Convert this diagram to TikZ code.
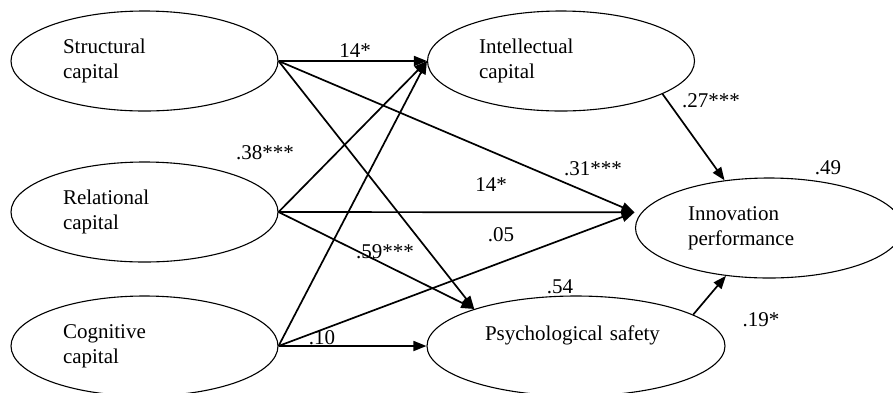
\documentclass[tikz,border=0pt]{standalone}
\usepackage{fontspec}
\setmainfont{Liberation Serif}
\usetikzlibrary{shapes.geometric, arrows.meta}

\tikzset{
    latent/.style={ellipse, draw, line width=1.1pt, inner sep=0pt,
        minimum width=267pt, minimum height=100pt, align=left},
    regpath/.style={-{Triangle[length=13pt,width=10pt]}, line width=1.7pt}
}

\begin{document}
\begin{tikzpicture}[x=1pt, y=-1pt, font=\fontsize{21}{25}\selectfont]
    \useasboundingbox (0,0) rectangle (893,392);
    % exogenous
    \node (struct) [latent, text width=163pt] at (144.5,61) {Structural\\capital};
    \node (relat) [latent, text width=163pt] at (144.5,212) {Relational\\capital};
    \node (cogn) [latent, text width=163pt] at (144.5,346) {Cognitive\\capital};
    % mediators and outcome
    \node (intel) [latent, text width=164pt] at (561,61) {Intellectual\\capital};
    \node (psych) [latent, minimum width=298pt, text width=182pt] at (576,346) {Psychological safety\\\mbox{}};
    \node (innov) [latent, text width=162pt] at (769,228) {Innovation\\performance};

    \path [regpath]
    (struct.east) edge (intel.west)
    (struct.east) edge ([xshift=-7pt]innov.173)
    (struct.east) edge (psych.160)
    (relat.east) edge (intel.west)
    (relat.east) edge ([xshift=-7pt]innov.173)
    (relat.east) edge (psych.160)
    (cogn.east) edge (intel.west)
    (cogn.east) edge ([xshift=-7pt]innov.173)
    (cogn.east) edge (psych.west)
    (intel.-18) edge (innov.133)
    (psych.15) edge (innov.228);

    % coefficients
    \node (b1) at (355,51) {14*};
    \node (b2) at (265,153) {.38***};
    \node (b3) at (711,101) {.27***};
    \node (b4) at (593,169) {.31***};
    \node (b5) at (491,185) {14*};
    \node (r1) at (828,168) {.49};
    \node (b6) at (385,252) {.59***};
    \node (b7) at (322,338) {.10};
    \node (b8) at (501,235) {.05};
    \node (r2) at (560,287) {.54};
    \node (b9) at (761,320) {.19*};
\end{tikzpicture}
\end{document}
